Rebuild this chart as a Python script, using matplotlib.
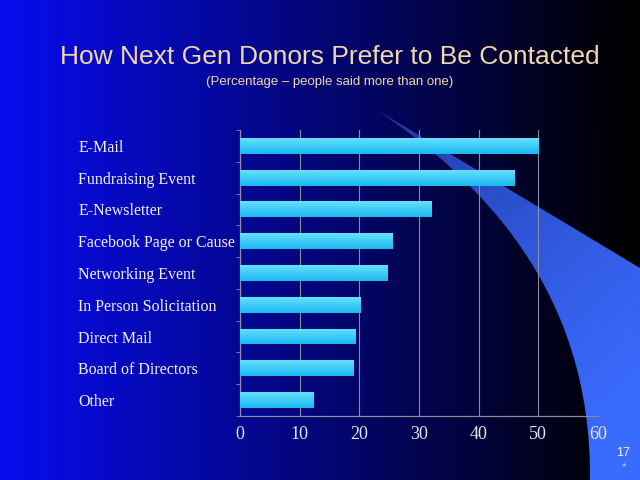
import matplotlib.pyplot as plt
import numpy as np
from matplotlib.patches import PathPatch
from matplotlib.path import Path

categories = ["E-Mail", "Fundraising Event", "E-Newsletter", "Facebook Page or Cause",
              "Networking Event", "In Person Solicitation", "Direct Mail",
              "Board of Directors", "Other"]
percent = [50.0, 46.0, 32.2, 25.6, 24.8, 20.2, 19.4, 19.0, 12.3]
x_ticks = [0, 10, 20, 30, 40, 50, 60]

title = "How Next Gen Donors Prefer to Be Contacted"
subtitle = "(Percentage \u2013 people said more than one)"
light = "#f2d7ae"
serif = ["Liberation Serif", "DejaVu Serif"]
sans = ["Liberation Sans", "DejaVu Sans"]


def draw_background(fig):
    bg = fig.add_axes([0, 0, 1, 1], zorder=0)
    bg.set_xlim(0, 640)
    bg.set_ylim(480, 0)
    bg.axis("off")
    # horizontal blue -> black gradient
    ramp = np.clip(np.linspace(0.94, -0.02, 256), 0, 1)
    img = np.zeros((2, 256, 3))
    img[:, :, 0] = ramp * 0.03
    img[:, :, 1] = ramp * 0.05
    img[:, :, 2] = ramp
    bg.imshow(img, extent=[0, 640, 480, 0], aspect="auto", zorder=0)

    # decorative swoosh on the right (pixel coords, y down)
    verts = [(377, 110), (640, 268), (640, 480), (590, 480),
             (592, 290), (480, 180), (377, 110), (377, 110)]
    codes = [Path.MOVETO, Path.LINETO, Path.LINETO, Path.LINETO,
             Path.CURVE4, Path.CURVE4, Path.CURVE4, Path.CLOSEPOLY]
    patch = PathPatch(Path(verts, codes), facecolor="none", edgecolor="none")
    bg.add_patch(patch)
    t = np.linspace(0, 1, 256)
    yy, xx = np.meshgrid(t, t, indexing="ij")
    s = np.clip(0.7 * yy + 0.45 * xx, 0, 1) ** 0.6
    sw = np.zeros((256, 256, 3))
    sw[:, :, 0] = 0.10 + 0.13 * s
    sw[:, :, 1] = 0.18 + 0.24 * s
    sw[:, :, 2] = 0.55 + 0.45 * s
    im = bg.imshow(sw, extent=[377, 640, 480, 110], aspect="auto", zorder=1)
    im.set_clip_path(patch)

    fig.text(0.515, 0.882, title, ha="center", va="center", color=light,
             fontsize=19, family=sans)
    fig.text(0.515, 0.829, subtitle, ha="center", va="center", color=light,
             fontsize=9.5, family=sans)
    fig.text(0.973, 0.056, "17", ha="center", va="center", color="#e8eeff",
             fontsize=9, family=sans)
    fig.text(0.975, 0.027, "*", ha="center", va="center", color="#c8d4ff",
             fontsize=8, family=sans)


def draw_bars(fig):
    ax = fig.add_axes([0.375, 0.1333, 0.559, 0.596], zorder=2)
    ax.patch.set_alpha(0)
    y = np.arange(len(categories))
    bars = ax.barh(y, percent, height=0.5, color="#2bc6f0", zorder=3)

    # vertical shading on each bar
    g = np.linspace(0, 1, 64)
    shade = np.zeros((64, 2, 3))
    shade[:, :, 0] = (0.40 - 0.30 * g)[:, None]
    shade[:, :, 1] = (0.88 - 0.16 * g)[:, None]
    shade[:, :, 2] = (1.00 - 0.06 * g)[:, None]
    for b in bars:
        x0, y0 = b.get_x(), b.get_y()
        im = ax.imshow(shade, extent=[x0, x0 + b.get_width(), y0 + b.get_height(), y0],
                       aspect="auto", zorder=4)
        im.set_clip_path(b)

    ax.set_xlim(0, 60)
    ax.set_ylim(len(categories) - 0.5, -0.5)
    ax.set_xticks(x_ticks)
    ax.set_xticklabels([str(v) for v in x_ticks], family=serif, fontsize=13,
                       color="#e4e4f0")
    ax.tick_params(axis="x", length=0, pad=7)
    ax.grid(True, axis="x", color="#8a8aa0", linewidth=0.8, zorder=1)

    ax.set_yticks([])
    ax.set_yticks(np.arange(-0.5, len(categories)), minor=True)
    ax.tick_params(axis="y", which="minor", length=3, color="#8a8aa0")
    for i, name in enumerate(categories):
        ax.text(-0.4525, i, name, transform=ax.get_yaxis_transform(),
                ha="left", va="center_baseline", family=serif, fontsize=11.5,
                color="#f4f0ec")

    for side in ("top", "right"):
        ax.spines[side].set_visible(False)
    for side in ("left", "bottom"):
        ax.spines[side].set_color("#8a8aa0")
        ax.spines[side].set_linewidth(0.9)


def main():
    fig = plt.figure(figsize=(6.4, 4.8), dpi=100)
    draw_background(fig)
    draw_bars(fig)
    fig.savefig("out.png", dpi=100)


if __name__ == '__main__':
    main()
